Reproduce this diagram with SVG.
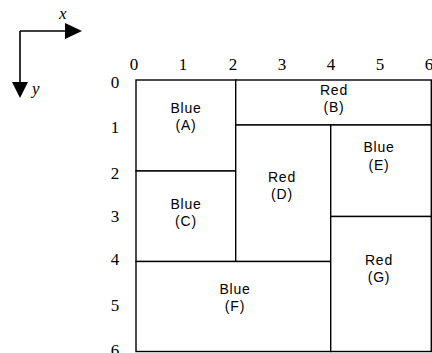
<svg xmlns="http://www.w3.org/2000/svg" width="432" height="353" viewBox="0 0 432 353">
<style>
.ax{stroke:#000;stroke-width:1.6;fill:none}
.cell{fill:#fff;stroke:#000;stroke-width:1.4}
.t{font-family:"Liberation Sans",Arial,sans-serif;font-size:14px;letter-spacing:0.8px;text-anchor:middle;fill:#000}
.n{font-family:"Liberation Serif","Times New Roman",serif;font-size:17px;text-anchor:middle;fill:#000}
.v{font-family:"Liberation Serif","Times New Roman",serif;font-size:17px;font-style:italic;fill:#000}
</style>
<rect width="432" height="353" fill="#fff"/>
<g id="axes">
<path class="ax" d="M20,31 H66 M20,31 V82"/>
<polygon points="65,23 82,31 65,39" fill="#000"/>
<polygon points="12,82 28,82 20,98" fill="#000"/>
<text class="v" x="59" y="19">x</text>
<text class="v" x="32" y="94">y</text>
</g>
<g id="ticks">
<text class="n" x="134" y="70">0</text>
<text class="n" x="183" y="70">1</text>
<text class="n" x="233" y="70">2</text>
<text class="n" x="282" y="70">3</text>
<text class="n" x="331" y="70">4</text>
<text class="n" x="380" y="70">5</text>
<text class="n" x="429" y="70">6</text>
<text class="n" x="115" y="88">0</text>
<text class="n" x="115" y="133">1</text>
<text class="n" x="115" y="179">2</text>
<text class="n" x="115" y="222">3</text>
<text class="n" x="115" y="265">4</text>
<text class="n" x="115" y="311">5</text>
<text class="n" x="115" y="356">6</text>
</g>
<g id="A">
<rect class="cell" x="136" y="80" width="99.7" height="91"/>
<text class="t" x="186" y="113">Blue</text>
<text class="t" x="186" y="130">(A)</text>
</g>
<g id="B">
<rect class="cell" x="235.7" y="80" width="195.6" height="45"/>
<text class="t" x="334" y="95">Red</text>
<text class="t" x="334" y="112">(B)</text>
</g>
<g id="C">
<rect class="cell" x="136" y="171" width="99.7" height="90.5"/>
<text class="t" x="186" y="209">Blue</text>
<text class="t" x="186" y="226">(C)</text>
</g>
<g id="D">
<rect class="cell" x="235.7" y="125" width="95" height="136.5"/>
<text class="t" x="282" y="181.5">Red</text>
<text class="t" x="282" y="199">(D)</text>
</g>
<g id="E">
<rect class="cell" x="330.7" y="125" width="100.6" height="91.5"/>
<text class="t" x="379" y="152">Blue</text>
<text class="t" x="379" y="169.5">(E)</text>
</g>
<g id="F">
<rect class="cell" x="136" y="261.5" width="194.7" height="90"/>
<text class="t" x="235" y="294">Blue</text>
<text class="t" x="235" y="310.5">(F)</text>
</g>
<g id="G">
<rect class="cell" x="330.7" y="216.5" width="100.6" height="135"/>
<text class="t" x="379" y="265">Red</text>
<text class="t" x="379" y="282">(G)</text>
</g>
</svg>
